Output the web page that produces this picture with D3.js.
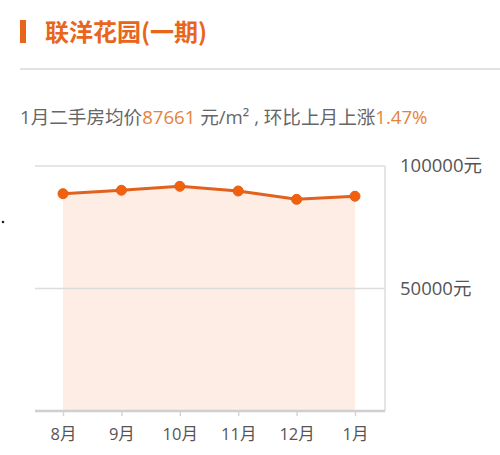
<!DOCTYPE html>
<html>
<head>
<meta charset="utf-8">
<script src="https://cdn.jsdelivr.net/npm/d3@7"></script>
<style>
  body { margin: 0; background: #fff; }
  svg text { font-family: "Open Sans", "Noto Sans CJK SC", sans-serif; }
</style>
</head>
<body>
<div id="chart"></div>
<script>
// chart data
var months = ["8月", "9月", "10月", "11月", "12月", "1月"];
var prices = [88700, 90100, 91700, 89800, 86391, 87661];
var yTicks = [50000, 100000];
var title = "联洋花园(一期)";
var summary = [
    { text: "1月二手房均价", hi: false },
    { text: "87661", hi: true },
    { text: " 元/m² , 环比上月上涨", hi: false },
    { text: "1.47%", hi: true }
];

var orange = "#e8661c";

var svg = d3.select("#chart").append("svg")
    .attr("width", 500)
    .attr("height", 455);

// header
svg.append("rect")
    .attr("x", 20).attr("y", 20)
    .attr("width", 6).attr("height", 23)
    .attr("fill", orange);

svg.append("text")
    .attr("x", 45).attr("y", 41)
    .attr("font-size", 24)
    .attr("font-weight", "bold")
    .attr("fill", orange)
    .style("font-family", "'Noto Sans CJK SC', sans-serif")
    .text(title);

svg.append("line")
    .attr("x1", 20).attr("x2", 500)
    .attr("y1", 69).attr("y2", 69)
    .attr("stroke", "#d9d9d9")
    .attr("stroke-width", 1.5);

var sub = svg.append("text")
    .attr("x", 20).attr("y", 124)
    .attr("font-size", 18.6);
sub.selectAll("tspan")
    .data(summary)
    .enter().append("tspan")
    .attr("fill", function(d) { return d.hi ? "#e5833e" : "#666"; })
    .text(function(d) { return d.text; });

// dot left of the chart
svg.append("circle")
    .attr("cx", 3).attr("cy", 222).attr("r", 1.3)
    .attr("fill", "#222");

// plot area
var plotLeft = 35, plotRight = 385, plotTop = 166, plotBottom = 411;

var x = d3.scalePoint()
    .domain(months)
    .range([63, 355]);

var y = d3.scaleLinear()
    .domain([0, 100000])
    .range([plotBottom, plotTop]);

var plot = svg.append("g").attr("class", "plot");

plot.append("path")
    .datum(prices)
    .attr("fill", "#fdede4")
    .attr("d", d3.area()
        .x(function(d, i) { return x(months[i]); })
        .y0(y(0))
        .y1(function(d) { return y(d); }));

// gridlines
plot.selectAll(".grid")
    .data(yTicks)
    .enter().append("line")
    .attr("class", "grid")
    .attr("x1", plotLeft).attr("x2", plotRight)
    .attr("y1", function(d) { return y(d); })
    .attr("y2", function(d) { return y(d); })
    .attr("stroke", "#dcdcdc")
    .attr("stroke-width", 1.5);

plot.append("line")
    .attr("x1", plotRight).attr("x2", plotRight)
    .attr("y1", plotTop).attr("y2", plotBottom)
    .attr("stroke", "#dcdcdc")
    .attr("stroke-width", 1.5);

plot.selectAll(".ylabel")
    .data(yTicks)
    .enter().append("text")
    .attr("class", "ylabel")
    .attr("x", 400)
    .attr("y", function(d) { return y(d); })
    .attr("dy", "0.33em")
    .attr("font-size", 18.5)
    .attr("fill", "#555")
    .text(function(d) { return d + "元"; });

// x axis
var xAxis = svg.append("g")
    .attr("transform", "translate(0," + plotBottom + ")")
    .call(d3.axisBottom(x).tickSize(5).tickPadding(12).tickSizeOuter(0));
xAxis.select(".domain").remove();
xAxis.insert("line", ":first-child")
    .attr("x1", plotLeft).attr("x2", plotRight)
    .attr("stroke", "#cfcfcf")
    .attr("stroke-width", 2.5);
xAxis.selectAll(".tick line").attr("stroke", "#d5d5d5").attr("stroke-width", 1.5);
xAxis.selectAll(".tick text")
    .attr("font-size", 16.5)
    .attr("fill", "#555")
    .style("font-family", "'Open Sans', 'Noto Sans CJK SC', sans-serif");

// line and points
plot.append("path")
    .datum(prices)
    .attr("fill", "none")
    .attr("stroke", "#e0621e")
    .attr("stroke-width", 3)
    .attr("d", d3.line()
        .x(function(d, i) { return x(months[i]); })
        .y(function(d) { return y(d); }));

plot.selectAll(".pt")
    .data(prices)
    .enter().append("circle")
    .attr("class", "pt")
    .attr("cx", function(d, i) { return x(months[i]); })
    .attr("cy", function(d) { return y(d); })
    .attr("r", 5)
    .attr("fill", "#f2600c")
    .attr("stroke", "#e2601c")
    .attr("stroke-width", 1);
</script>
</body>
</html>
